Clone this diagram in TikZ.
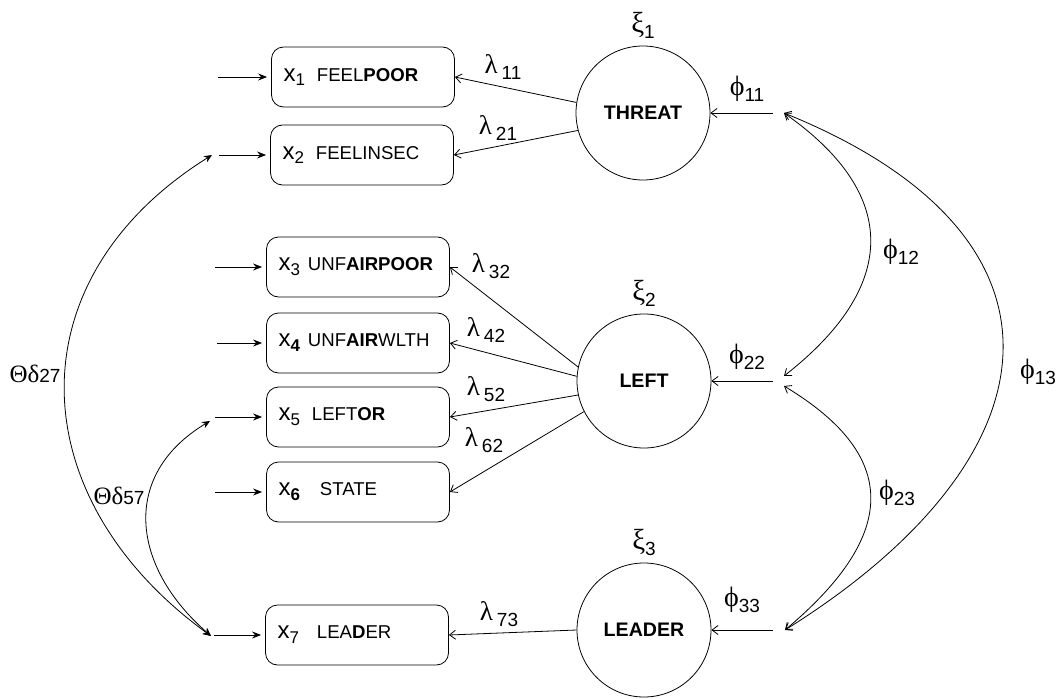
\documentclass[tikz,border=0pt]{standalone}
\usepackage{fontspec}
\setmainfont{Liberation Sans}
\newfontfamily\greekfont{Liberation Serif}
\usetikzlibrary{positioning,arrows.meta}
\newcommand{\subsz}{\fontsize{8}{8}\selectfont}
\newcommand{\labsz}{\fontsize{9.5}{9.5}\selectfont}
\newcommand{\lam}[1]{{\greekfont\fontsize{13.5}{13.5}\selectfont λ}\kern2pt\raisebox{-0.5ex}{\labsz #1}}
\newcommand{\phiv}[1]{{\greekfont\fontsize{14}{14}\selectfont ϕ}\raisebox{-0.5ex}{\labsz #1}}
\newcommand{\xiv}[1]{{\greekfont\fontsize{14.5}{14.5}\selectfont ξ}\raisebox{-0.6ex}{\labsz #1}}
\newcommand{\xvar}[1]{{\fontsize{12}{12}\selectfont x}\raisebox{-0.5ex}{\fontsize{8.5}{8.5}\selectfont #1}}
\newcommand{\thd}[1]{{\greekfont\fontsize{12.5}{12.5}\selectfont Θδ}{\fontsize{9.5}{9.5}\selectfont #1}}
\tikzset{
    indicator/.style={draw, rounded corners=6pt, minimum height=30pt, text width=79.5pt, inner xsep=6pt, align=left, font=\fontsize{9.3}{11}\selectfont},
    latent/.style={draw, circle, minimum size=67pt, inner sep=0pt, font=\bfseries\fontsize{9.8}{11}\selectfont},
    input/.style={-{Stealth[length=4.5pt,width=3.5pt]}, shorten >=2pt},
    cov/.style={{Stealth[length=4pt,width=3.5pt]}-{Stealth[length=4pt,width=3.5pt]}},
}
\begin{document}
\begin{tikzpicture}[x=0.5pt,y=0.5pt,>={Straight Barb[length=3pt,width=4.5pt]}]
    \useasboundingbox (0,0) rectangle (1060,698);
    %Latent variables
        \node[latent] (threat) at (643,585) {THREAT};
        \node[latent] (left) at (644,317) {LEFT};
        \node[latent] (leader) at (644,68) {LEADER};
        \node[above=0pt of threat] (xi1) {\xiv{1}};
        \node[above=0pt of left] (xi2) {\xiv{2}};
        \node[above=0pt of leader] (xi3) {\xiv{3}};
    %Indicators
        \node[indicator] (x1) at (363,621) {\xvar{1}\kern6pt FEEL\textbf{POOR}};
        \node[indicator] (x2) at (362,543) {\xvar{2}\kern6pt FEELINSEC};
        \node[indicator] (x3) at (358,431) {\xvar{3}\kern4pt UNF\textbf{AIRPOOR}};
        \node[indicator] (x4) at (358,355) {\xvar{\textbf{4}}\kern4pt UNF\textbf{AIR}WLTH};
        \node[indicator] (x5) at (358,281) {\xvar{5}\kern6pt LEFT\textbf{OR}};
        \node[indicator] (x6) at (358,206) {\xvar{\textbf{6}}\kern10pt STATE};
        \node[indicator] (x7) at (357,63) {\xvar{7}\kern9pt LEA\textbf{D}ER};
    %Errors
        \coordinate (e1) at (218,621);
        \coordinate (e2) at (219,543);
        \coordinate (e3) at (215,431);
        \coordinate (e4) at (217,355);
        \coordinate (e5) at (215,281);
        \coordinate (e6) at (215,206);
        \coordinate (e7) at (214,63);
        \draw[input] (e1) -- (x1.west);
        \draw[input] (e2) -- (x2.west);
        \draw[input] (e3) -- (x3.west);
        \draw[input] (e4) -- (x4.west);
        \draw[input] (e5) -- (x5.west);
        \draw[input] (e6) -- (x6.west);
        \draw[input] (e7) -- (x7.west);
    %Loadings
        \draw[->] (threat.171) -- (x1.east);
        \draw[->] (threat.195) -- (x2.east);
        \draw[->] (left.168) -- (x3.east);
        \draw[->] (left.176) -- (x4.east);
        \draw[->] (left.192) -- (x5.east);
        \draw[->] (left.207) -- (x6.east);
        \draw[->] (leader.west) -- (x7.east);
        \node (l11) at (503,631) {\lam{11}};
        \node (l21) at (498,570) {\lam{21}};
        \node (l32) at (491,432) {\lam{32}};
        \node (l42) at (486,368) {\lam{42}};
        \node (l52) at (486,309) {\lam{52}};
        \node (l62) at (484,258) {\lam{62}};
        \node (l73) at (499,84) {\lam{73}};
    %Variances
        \coordinate (p11) at (773,585);
        \coordinate (p22) at (773,317);
        \coordinate (p33) at (773,68);
        \draw[->] (p11) -- (threat.east);
        \draw[->] (p22) -- (left.east);
        \draw[->] (p33) -- (leader.east);
        \node (f11) at (747,609) {\phiv{11}};
        \node (f22) at (747,341) {\phiv{22}};
        \node (f33) at (742,98) {\phiv{33}};
    %Covariances
        \coordinate (r1) at (784,585);
        \coordinate (r2a) at (784,322);
        \coordinate (r2b) at (784,312);
        \coordinate (r3) at (785,68);
        \draw[<->] (r2a) to[out=38,in=325,looseness=1.4] (r1);
        \draw[<->] (r3) to[out=40,in=329,looseness=1.48] (r2b);
        \draw[<->] (r3) to[out=32,in=338,looseness=1.62] (r1);
        \node (f12) at (901,446) {\phiv{12}};
        \node (f23) at (897,205) {\phiv{23}};
        \node (f13) at (1038,326) {\phiv{13}};
    %Error covariances
        \coordinate (d2) at (212,543);
        \coordinate (d5) at (210,277);
        \coordinate (d7) at (211,62);
        \draw[cov] (d2) to[out=212,in=144,looseness=1.25] (d7);
        \draw[cov] (d5) to[out=211,in=139,looseness=1.25] (d7);
        \node (t27) at (35,324) {\thd{27}};
        \node (t57) at (119,202) {\thd{57}};
\end{tikzpicture}
\end{document}
